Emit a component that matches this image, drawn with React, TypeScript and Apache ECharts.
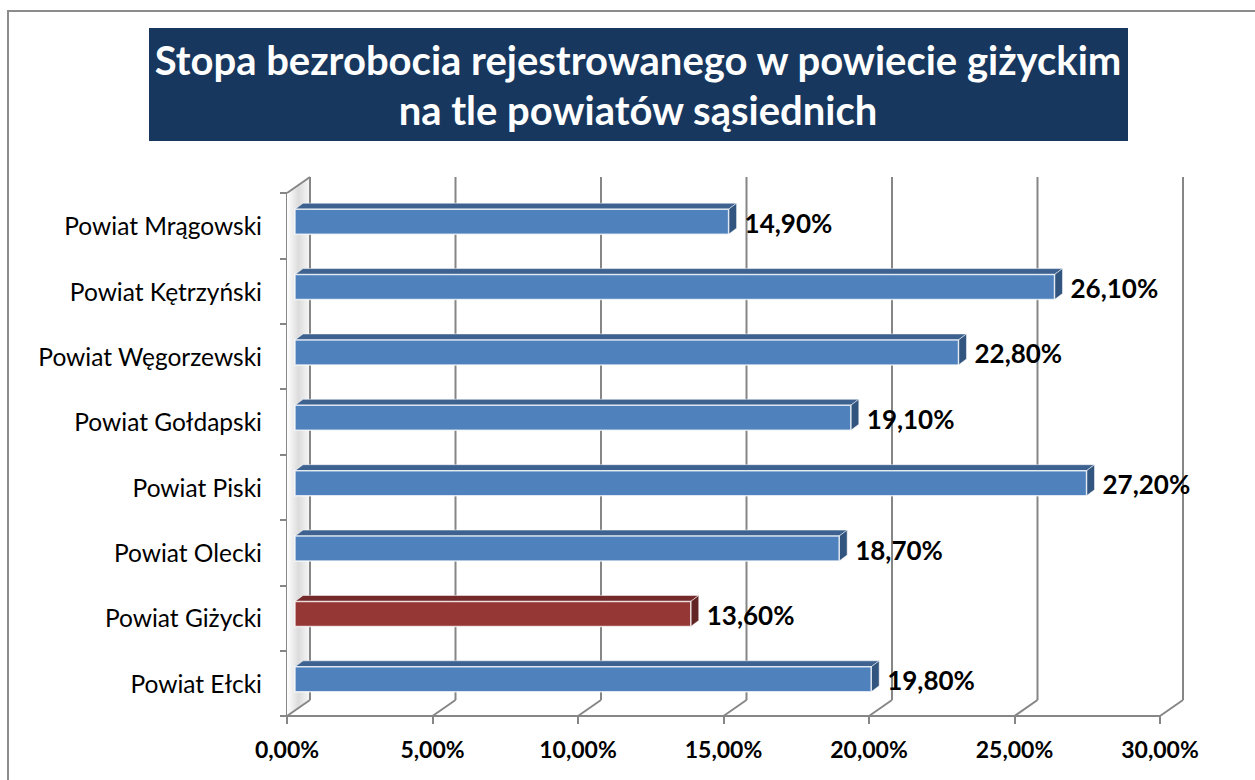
import React, { useEffect, useRef } from "react";
import * as echarts from "echarts";

const categories = [
  "Powiat Mrągowski",
  "Powiat Kętrzyński",
  "Powiat Węgorzewski",
  "Powiat Gołdapski",
  "Powiat Piski",
  "Powiat Olecki",
  "Powiat Giżycki",
  "Powiat Ełcki",
];
const values = [14.9, 26.1, 22.8, 19.1, 27.2, 18.7, 13.6, 19.8];
const highlighted = "Powiat Giżycki";
const xTicks = [0, 5, 10, 15, 20, 25, 30];
const titleLines = ["Stopa bezrobocia rejestrowanego w powiecie giżyckim", "na tle powiatów sąsiednich"];

const FONT = "Lato, 'Noto Sans', sans-serif";
const fmt = (v: number) => v.toFixed(2).replace(".", ",") + "%";

export default function App() {
  const ref = useRef<HTMLDivElement>(null);
  useEffect(() => {
    const chart = echarts.init(ref.current!, null, { renderer: "svg" });
    const WALL_DX = 23, WALL_DY = 16;
    const BAR_OX = 8, BAR_OY = -4, BAR_DX = 8, BAR_DY = 6, BAR_H = 25;
    const GRID = "#868686";

    const wallItem = (params: any, api: any) => {
      const cs = params.coordSys;
      const v = api.value(0);
      const X = api.coord([v, 0])[0];
      const top = cs.y, bottom = cs.y + cs.height;
      const children: any[] = [];
      if (params.dataIndex === 0) {
        children.push({
          type: "polygon",
          shape: { points: [[X, top], [X + WALL_DX, top - WALL_DY], [X + WALL_DX, bottom - WALL_DY], [X, bottom]] },
          style: {
            fill: new echarts.graphic.LinearGradient(0, 0, 1, 0, [
              { offset: 0, color: "#ffffff" },
              { offset: 0.5, color: "#dcdcdc" },
              { offset: 1, color: "#f7f7f7" },
            ]),
          },
        });
        children.push({
          type: "line",
          shape: { x1: X, y1: top, x2: X + WALL_DX, y2: top - WALL_DY },
          style: { stroke: GRID, lineWidth: 2 },
        });
      }
      children.push({
        type: "line",
        shape: { x1: X + WALL_DX, y1: top - WALL_DY, x2: X + WALL_DX, y2: bottom - WALL_DY },
        style: { stroke: GRID, lineWidth: 2 },
      });
      children.push({
        type: "line",
        shape: { x1: X, y1: bottom, x2: X + WALL_DX, y2: bottom - WALL_DY },
        style: { stroke: GRID, lineWidth: 2 },
      });
      return { type: "group", children };
    };

    const barItem = (params: any, api: any) => {
      const v = api.value(0);
      const ci = api.value(1);
      const x0 = api.coord([0, ci])[0] + BAR_OX;
      const p = api.coord([v, ci]);
      const x1 = p[0] + BAR_OX;
      const yc = p[1] + BAR_OY;
      const yt = yc - BAR_H / 2, yb = yc + BAR_H / 2;
      const red = categories[ci] === highlighted;
      const front = red ? "#953735" : "#4f81bd";
      const topC = red ? "#74292a" : "#3d6290";
      const side = red ? "#632523" : "#32557f";
      return {
        type: "group",
        children: [
          {
            type: "polygon",
            shape: { points: [[x0, yt], [x0 + BAR_DX, yt - BAR_DY], [x1 + BAR_DX, yt - BAR_DY], [x1, yt]] },
            style: { fill: topC, stroke: "rgba(255,255,255,0.5)", lineWidth: 1 },
          },
          {
            type: "polygon",
            shape: { points: [[x1, yt], [x1 + BAR_DX, yt - BAR_DY], [x1 + BAR_DX, yb - BAR_DY], [x1, yb]] },
            style: { fill: side, stroke: "rgba(255,255,255,0.5)", lineWidth: 1 },
          },
          {
            type: "rect",
            shape: { x: x0, y: yt, width: x1 - x0, height: BAR_H },
            style: { fill: front, stroke: "rgba(255,255,255,0.75)", lineWidth: 1.5 },
          },
          {
            type: "text",
            style: {
              text: fmt(v),
              x: x1 + BAR_DX + 8,
              y: yc + 1,
              fill: "#000",
              fontFamily: FONT,
              fontWeight: "bold",
              fontSize: 26,
              align: "left",
              verticalAlign: "middle",
            },
          },
        ],
      };
    };

    chart.setOption({
      animation: false,
      backgroundColor: "#ffffff",
      grid: { left: 287, top: 193, width: 873, height: 523, containLabel: false },
      graphic: [
        {
          type: "rect",
          shape: { x: 8, y: 11, width: 1400, height: 1000 },
          style: { fill: "none", stroke: "#8c8c8c", lineWidth: 2 },
          silent: true,
        },
        {
          type: "rect",
          shape: { x: 149, y: 28, width: 979, height: 113 },
          style: { fill: "#17375e" },
        },
        {
          type: "text",
          x: 638,
          y: 60,
          style: {
            text: titleLines[0],
            fill: "#ffffff",
            fontFamily: FONT,
            fontWeight: "bold",
            fontSize: 40,
            align: "center",
            verticalAlign: "middle",
          },
        },
        {
          type: "text",
          x: 638,
          y: 110,
          style: {
            text: titleLines[1],
            fill: "#ffffff",
            fontFamily: FONT,
            fontWeight: "bold",
            fontSize: 40,
            align: "center",
            verticalAlign: "middle",
          },
        },
      ],
      xAxis: {
        type: "value",
        min: 0,
        max: 30,
        interval: 5,
        axisLine: { show: true, lineStyle: { color: GRID, width: 2 } },
        axisTick: { show: true, length: 8, lineStyle: { color: GRID, width: 2 } },
        splitLine: { show: false },
        axisLabel: {
          formatter: (v: number) => fmt(v),
          color: "#000",
          fontFamily: FONT,
          fontWeight: "bold",
          fontSize: 23,
          margin: 21,
        },
      },
      yAxis: {
        type: "category",
        data: categories,
        inverse: true,
        axisLine: { show: true, lineStyle: { color: GRID, width: 2 } },
        axisTick: { show: true, length: 7, lineStyle: { color: GRID, width: 2 } },
        splitLine: { show: false },
        axisLabel: {
          color: "#000",
          fontFamily: FONT,
          fontSize: 24.5,
          margin: 25,
        },
      },
      series: [
        {
          type: "custom",
          name: "walls",
          z: 1,
          clip: false,
          silent: true,
          renderItem: wallItem,
          encode: { x: 0, y: 1 },
          data: xTicks.map((t) => [t, 0]),
        },
        {
          type: "custom",
          name: "Stopa bezrobocia",
          z: 3,
          clip: false,
          renderItem: barItem,
          encode: { x: 0, y: 1 },
          data: values.map((v, i) => [v, i]),
        },
      ],
    });
    return () => chart.dispose();
  }, []);
  return <div ref={ref} style={{ position: "fixed", left: 0, top: 0, width: 1255, height: 780 }} />;
}
